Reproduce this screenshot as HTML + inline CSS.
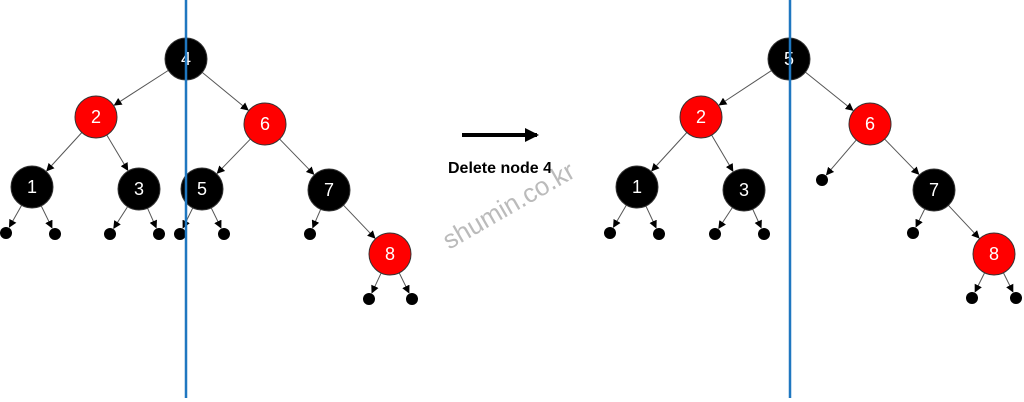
<!DOCTYPE html>
<html><head><meta charset="utf-8"><style>
html,body{margin:0;padding:0;background:#fff;width:1024px;height:402px;overflow:hidden}
svg text{font-family:"Liberation Sans",sans-serif}
</style></head><body>
<svg id="s" width="1024" height="402" xmlns="http://www.w3.org/2000/svg">
<defs><marker id="a" markerWidth="8" markerHeight="8" refX="7" refY="4" orient="auto" markerUnits="userSpaceOnUse"><path d="M0,0 L8,4 L0,8 z" fill="#000"/></marker>
<marker id="b" markerWidth="14" markerHeight="14" refX="12" refY="7" orient="auto" markerUnits="userSpaceOnUse"><path d="M0,0 L14,7 L0,14 z" fill="#000"/></marker></defs>
<g id="g"></g>
<line x1="462" y1="135" x2="537" y2="135" stroke="#000" stroke-width="4" marker-end="url(#b)"/>
<text x="500" y="173" text-anchor="middle" font-weight="bold" font-size="16" fill="#000">Delete node 4</text>
<text x="513" y="213" text-anchor="middle" font-size="26" fill="#bbb" transform="rotate(-30 513 213)">shumin.co.kr</text>
<line x1="186" y1="0" x2="186" y2="398" stroke="#1f77c0" stroke-width="2.5"/>
<line x1="790" y1="0" x2="790" y2="398" stroke="#1f77c0" stroke-width="2.5"/>
</svg>
<script>
var g=document.getElementById('g'),NS='http://www.w3.org/2000/svg';
function el(t,a){var e=document.createElementNS(NS,t);for(var k in a)e.setAttribute(k,a[k]);g.appendChild(e);return e;}
var R=21,L=6;
function tree(N,E){
 E.forEach(function(e){var p=N[e[0]],c=N[e[1]];var dx=c[0]-p[0],dy=c[1]-p[1],d=Math.hypot(dx,dy);var rp=p[3]?R:L,rc=c[3]?R:L;
  el('line',{x1:p[0]+dx/d*rp,y1:p[1]+dy/d*rp,x2:c[0]-dx/d*(rc+1),y2:c[1]-dy/d*(rc+1),stroke:'#555','stroke-width':1,'marker-end':'url(#a)'});});
 for(var k in N){var n=N[k];
  if(n[3]){el('circle',{cx:n[0],cy:n[1],r:R,fill:n[2],stroke:'#333','stroke-width':1});
   var t=el('text',{x:n[0],y:n[1]+6,'text-anchor':'middle','font-size':18,fill:'#fff'});t.textContent=n[3];}
  else el('circle',{cx:n[0],cy:n[1],r:L,fill:'#000'});}
}
var r='#f00',k='#000';
tree({n4:[186,59,k,'4'],n2:[96,117,r,'2'],n6:[265,124,r,'6'],n1:[32,187,k,'1'],n3:[139,189,k,'3'],n5:[202,189,k,'5'],n7:[329,190,k,'7'],n8:[390,254,r,'8'],
 a:[6,233],b:[55,234],c:[110,234],d:[159,234],e:[180,234],f:[224,234],h:[310,234],i:[369,299],j:[412,299]},
 [['n4','n2'],['n4','n6'],['n2','n1'],['n2','n3'],['n6','n5'],['n6','n7'],['n7','n8'],['n1','a'],['n1','b'],['n3','c'],['n3','d'],['n5','e'],['n5','f'],['n7','h'],['n8','i'],['n8','j']]);
tree({n5:[789,59,k,'5'],n2:[701,117,r,'2'],n6:[870,124,r,'6'],n1:[637,187,k,'1'],n3:[744,190,k,'3'],n7:[934,190,k,'7'],n8:[994,254,r,'8'],
 e:[822,180],a:[610,233],b:[659,234],c:[715,234],d:[764,234],h:[913,233],i:[972,298],j:[1016,298]},
 [['n5','n2'],['n5','n6'],['n2','n1'],['n2','n3'],['n6','e'],['n6','n7'],['n7','n8'],['n1','a'],['n1','b'],['n3','c'],['n3','d'],['n7','h'],['n8','i'],['n8','j']]);
</script>
</body></html>
